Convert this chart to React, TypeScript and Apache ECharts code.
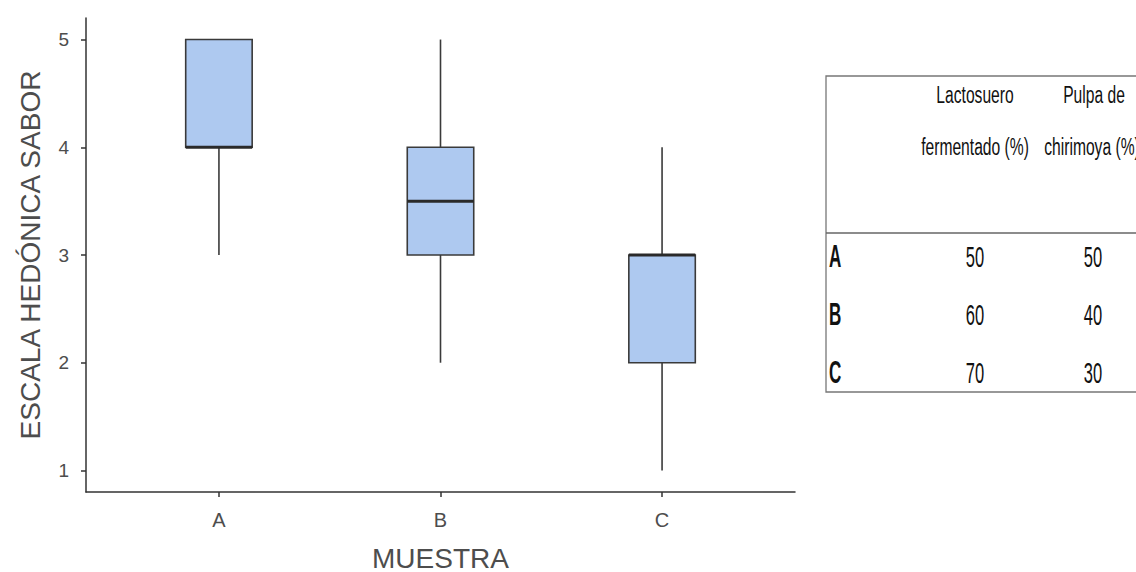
import React, { useEffect, useRef } from "react";
import * as echarts from "echarts";

const categories = ["A", "B", "C"];
const mins = [3, 2, 1];
const q1s = [4, 3, 2];
const medians = [4, 3.5, 3];
const q3s = [5, 4, 3];
const maxs = [5, 5, 4];
const yTicks = [1, 2, 3, 4, 5];

const tableRows = ["A", "B", "C"];
const lactosuero = [50, 60, 70];
const pulpa = [50, 40, 30];
const tableHeader1 = ["Lactosuero", "fermentado (%)"];
const tableHeader2 = ["Pulpa de", "chirimoya (%)"];

export default function App() {
  const ref = useRef<HTMLDivElement>(null);
  useEffect(() => {
    const chart = echarts.init(ref.current!, null, { renderer: "svg" });
    const data = categories.map((c, i) => [i + 1, mins[i], q1s[i], medians[i], q3s[i], maxs[i]]);
    const ff = "'Liberation Sans', Arial, sans-serif";
    const tableText: any[] = [];
    const hdr = (text: string, x: number, y: number) => ({
      type: "text",
      x,
      y,
      scaleX: 0.68,
      style: { text, font: `23px ${ff}`, fill: "#111", align: "center", verticalAlign: "middle" },
    });
    tableHeader1.forEach((t, i) => tableText.push(hdr(t, 975, 95 + i * 52)));
    tableHeader2.forEach((t, i) => tableText.push(hdr(t, 1094 - i * 2, 95 + i * 52)));
    tableRows.forEach((r, i) => {
      const y = 256 + i * 58;
      tableText.push({ type: "text", x: 829, y, scaleX: 0.55, style: { text: r, font: `bold 31px ${ff}`, fill: "#111", align: "left", verticalAlign: "middle" } });
      tableText.push({ type: "text", x: 975, y, scaleX: 0.55, style: { text: String(lactosuero[i]), font: `30px ${ff}`, fill: "#111", align: "center", verticalAlign: "middle" } });
      tableText.push({ type: "text", x: 1093, y, scaleX: 0.55, style: { text: String(pulpa[i]), font: `30px ${ff}`, fill: "#111", align: "center", verticalAlign: "middle" } });
    });
    chart.setOption({
      animation: false,
      backgroundColor: "#fff",
      grid: { left: 86, right: 341, top: 18, bottom: 80, outerBoundsMode: "none", containLabel: false },
      xAxis: {
        type: "value",
        min: 0.4,
        max: 3.6,
        name: "MUESTRA",
        nameLocation: "middle",
        nameGap: 52,
        nameTextStyle: { fontSize: 28, color: "#4d4d4d", fontFamily: ff },
        splitLine: { show: false },
        axisLine: { show: true, lineStyle: { color: "#333", width: 1.5 } },
        axisTick: { show: true, customValues: [1, 2, 3], length: 5, lineStyle: { color: "#333", width: 1.5 } },
        axisLabel: {
          customValues: [1, 2, 3],
          formatter: (v: number) => categories[Math.round(v) - 1] ?? "",
          fontSize: 20,
          color: "#4d4d4d",
          fontFamily: ff,
          margin: 18,
        },
      },
      yAxis: {
        type: "value",
        min: 0.8,
        max: 5.2,
        name: "ESCALA HEDÓNICA SABOR",
        nameLocation: "middle",
        nameGap: 42,
        nameRotate: 90,
        nameTextStyle: { fontSize: 28, color: "#4d4d4d", fontFamily: ff },
        splitLine: { show: false },
        axisLine: { show: true, lineStyle: { color: "#333", width: 1.5 } },
        axisTick: { show: true, customValues: yTicks, length: 5, lineStyle: { color: "#333", width: 1.5 } },
        axisLabel: {
          customValues: yTicks,
          fontSize: 19,
          color: "#4d4d4d",
          fontFamily: ff,
          margin: 17,
        },
      },
      series: [
        {
          type: "custom",
          data,
          renderItem: (params: any, api: any) => {
            const x = api.value(0);
            const pMin = api.coord([x, api.value(1)]);
            const pQ1 = api.coord([x, api.value(2)]);
            const pMed = api.coord([x, api.value(3)]);
            const pQ3 = api.coord([x, api.value(4)]);
            const pMax = api.coord([x, api.value(5)]);
            const w = api.size([0.3, 0])[0];
            const cx = pMed[0];
            const lineStyle = { stroke: "#3a3a3a", lineWidth: 1.6 };
            return {
              type: "group",
              children: [
                { type: "line", shape: { x1: cx, y1: pMax[1], x2: cx, y2: pQ3[1] }, style: lineStyle },
                { type: "line", shape: { x1: cx, y1: pQ1[1], x2: cx, y2: pMin[1] }, style: lineStyle },
                {
                  type: "rect",
                  shape: { x: cx - w / 2, y: pQ3[1], width: w, height: pQ1[1] - pQ3[1] },
                  style: { fill: "#aec9f0", stroke: "#3a3a3a", lineWidth: 1.6 },
                },
                { type: "line", shape: { x1: cx - w / 2, y1: pMed[1], x2: cx + w / 2, y2: pMed[1] }, style: { stroke: "#2a2a2a", lineWidth: 3 } },
              ],
            };
          },
        },
      ],
      graphic: [
        { type: "rect", shape: { x: 826, y: 76, width: 320, height: 316 }, style: { fill: "none", stroke: "#777", lineWidth: 1.3 } },
        { type: "line", shape: { x1: 826, y1: 233, x2: 1136, y2: 233 }, style: { stroke: "#666", lineWidth: 1.3 } },
        ...tableText,
      ],
    });
    return () => chart.dispose();
  }, []);
  return <div ref={ref} style={{ position: "fixed", left: 0, top: 0, width: 1136, height: 572 }} />;
}
